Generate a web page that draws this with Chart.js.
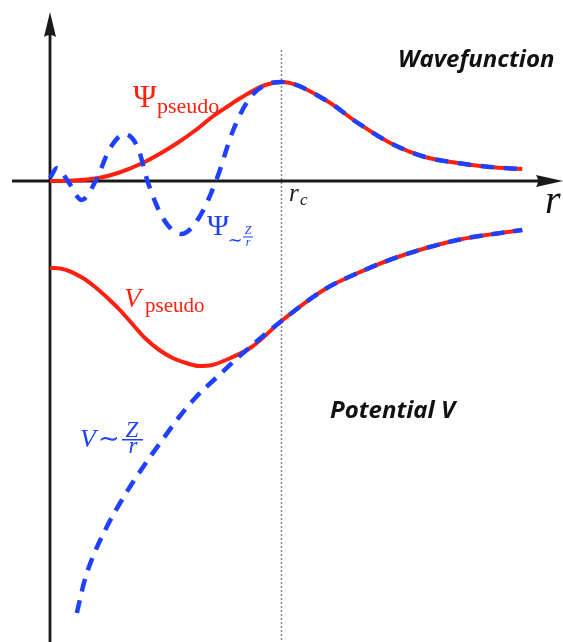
<!DOCTYPE html>
<html>
<head>
<meta charset="utf-8">
<script src="https://cdn.jsdelivr.net/npm/chart.js@4.4.1/dist/chart.umd.min.js"></script>
<style>
  html, body { margin: 0; padding: 0; background: #fff; }
  canvas { display: block; }
</style>
</head>
<body>
<canvas id="chart" width="563" height="642"></canvas>
<script>
// r is measured in units of the cutoff radius r_c
// wavefunctions: inside r_c the all-electron one oscillates, the pseudo one is nodeless
const rPsiAE   = [0, 0.03, 0.077, 0.137, 0.197, 0.26, 0.322, 0.38, 0.421, 0.49, 0.567, 0.64, 0.717, 0.79, 0.86, 0.93];
const psiAE    = [0.03, 0.13, 0, -0.19, 0, 0.33, 0.47, 0.33, 0, -0.38, -0.53, -0.38, 0, 0.5, 0.82, 0.96];
const rPsiPs   = [0, 0.1, 0.21, 0.30, 0.40, 0.48, 0.55, 0.63, 0.70, 0.77, 0.83, 0.93];
const psiPs    = [0, 0.004, 0.03, 0.085, 0.18, 0.28, 0.38, 0.51, 0.64, 0.75, 0.84, 0.96];
// beyond r_c both wavefunctions are the same
const rPsiTail = [1.0, 1.19, 1.33, 1.47, 1.62, 1.76, 1.90, 2.04];
const psiTail  = [0.99, 0.81, 0.58, 0.38, 0.24, 0.18, 0.14, 0.12];

// potentials
const rVAE   = [0.116, 0.15, 0.185, 0.245, 0.300, 0.356, 0.429, 0.485, 0.558, 0.631, 0.717, 0.815];
const vAE    = [-4.32, -3.99, -3.76, -3.46, -3.23, -3.02, -2.77, -2.59, -2.36, -2.16, -1.97, -1.76];
const rVPs   = [0, 0.05, 0.142, 0.2, 0.258, 0.31, 0.356, 0.41, 0.472, 0.53, 0.588, 0.644, 0.70, 0.76, 0.871];
const vPs    = [-0.87, -0.877, -0.97, -1.07, -1.19, -1.31, -1.43, -1.57, -1.69, -1.77, -1.82, -1.85, -1.84, -1.79, -1.66];
const rVTail = [1.0, 1.189, 1.33, 1.502, 1.76, 2.04];
const vTail  = [-1.40, -1.08, -0.92, -0.76, -0.59, -0.49];

const RED = '#ff2010';
const BLUE = '#1e40ff';
const SERIF = "'Liberation Serif', 'DejaVu Serif', serif";
const SANS = '"Open Sans", sans-serif';

function pts(xs, ys) {
  return xs.map((v, i) => ({ x: v, y: ys[i] }));
}

function put(ctx, s, px, py, font, color, align) {
  ctx.font = font;
  ctx.fillStyle = color;
  ctx.textAlign = align || 'left';
  ctx.textBaseline = 'alphabetic';
  ctx.fillText(s, px, py);
}

// axes with arrows, the dotted r_c line and all the labels
const sketch = {
  id: 'sketch',
  beforeDatasetsDraw(chart) {
    const { ctx, scales: { x, y } } = chart;
    const x0 = x.getPixelForValue(0), y0 = y.getPixelForValue(0);
    const xc = x.getPixelForValue(1);
    ctx.save();
    ctx.strokeStyle = '#888';
    ctx.lineWidth = 1.5;
    ctx.setLineDash([2, 2]);
    ctx.beginPath();
    ctx.moveTo(xc, 50);
    ctx.lineTo(xc, chart.height);
    ctx.stroke();
    ctx.setLineDash([]);

    ctx.strokeStyle = '#1a1a1a';
    ctx.fillStyle = '#1a1a1a';
    ctx.lineWidth = 2.8;
    ctx.beginPath();
    ctx.moveTo(x0, chart.height);
    ctx.lineTo(x0, 32);
    ctx.moveTo(12, y0);
    ctx.lineTo(540, y0);
    ctx.stroke();

    ctx.beginPath();
    ctx.moveTo(x0, 12);
    ctx.lineTo(x0 + 6, 37);
    ctx.quadraticCurveTo(x0, 33, x0 - 6, 37);
    ctx.closePath();
    ctx.fill();
    ctx.beginPath();
    ctx.moveTo(563, y0);
    ctx.lineTo(536, y0 - 6);
    ctx.quadraticCurveTo(540, y0, 536, y0 + 6);
    ctx.closePath();
    ctx.fill();
    ctx.restore();
  },
  afterDatasetsDraw(chart) {
    const ctx = chart.ctx;
    ctx.save();
    // Psi_pseudo
    put(ctx, 'Ψ', 133, 107, '32px ' + SERIF, RED);
    put(ctx, 'pseudo', 157, 113, '22px ' + SERIF, RED);
    // Psi_{~Z/r}
    put(ctx, 'Ψ', 207, 235, '30px ' + SERIF, BLUE);
    put(ctx, '∼', 235, 246, '18px ' + SERIF, BLUE, 'center');
    put(ctx, 'Z', 248, 234, 'italic 12px ' + SERIF, BLUE, 'center');
    put(ctx, 'r', 248, 246, 'italic 12px ' + SERIF, BLUE, 'center');
    ctx.fillStyle = BLUE;
    ctx.fillRect(243, 236.5, 10, 1);
    // V_pseudo
    put(ctx, 'V', 124, 307, 'italic 28px ' + SERIF, RED);
    put(ctx, 'pseudo', 145, 312, '21px ' + SERIF, RED);
    // V ~ Z/r
    put(ctx, 'V', 80, 447, 'italic 26px ' + SERIF, BLUE);
    put(ctx, '∼', 109, 447, '26px ' + SERIF, BLUE, 'center');
    put(ctx, 'Z', 132, 437, 'italic 23px ' + SERIF, BLUE, 'center');
    put(ctx, 'r', 133, 453, 'italic 23px ' + SERIF, BLUE, 'center');
    ctx.fillStyle = BLUE;
    ctx.fillRect(122, 439, 21, 1.5);
    // r_c and r
    put(ctx, 'r', 289, 201, 'italic 25px ' + SERIF, '#222');
    put(ctx, 'c', 300, 205, 'italic 17px ' + SERIF, '#222');
    put(ctx, 'r', 545, 213, 'italic 40px ' + SERIF, '#111');
    // panel titles
    put(ctx, 'Wavefunction', 398, 67, 'italic bold 24px ' + SANS, '#111');
    put(ctx, 'Potential V', 330, 418, 'italic bold 24px ' + SANS, '#111');
    ctx.restore();
  }
};

const line = {
  pointRadius: 0,
  fill: false,
  cubicInterpolationMode: 'monotone'
};

new Chart(document.getElementById('chart'), {
  type: 'line',
  data: {
    datasets: [
      Object.assign({ label: 'Psi AE', data: pts(rPsiAE.concat(rPsiTail), psiAE.concat(psiTail)),
        borderColor: BLUE, borderWidth: 4.5, borderDash: [13, 10], order: 0 }, line),
      Object.assign({ label: 'V AE', data: pts(rVAE.concat(rVTail), vAE.concat(vTail)),
        borderColor: BLUE, borderWidth: 4.5, borderDash: [13, 9], order: 0 }, line),
      Object.assign({ label: 'Psi pseudo', data: pts(rPsiPs.concat(rPsiTail), psiPs.concat(psiTail)),
        borderColor: RED, borderWidth: 4, order: 1 }, line),
      Object.assign({ label: 'V pseudo', data: pts(rVPs.concat(rVTail), vPs.concat(vTail)),
        borderColor: RED, borderWidth: 4, order: 1 }, line)
    ]
  },
  options: {
    responsive: false,
    animation: false,
    layout: { padding: 0 },
    scales: {
      x: { type: 'linear', min: -0.216, max: 2.216, display: false },
      y: { type: 'linear', min: -4.61, max: 1.81, display: false }
    },
    plugins: {
      legend: { display: false },
      tooltip: { enabled: false }
    }
  },
  plugins: [sketch]
});
</script>
</body>
</html>
